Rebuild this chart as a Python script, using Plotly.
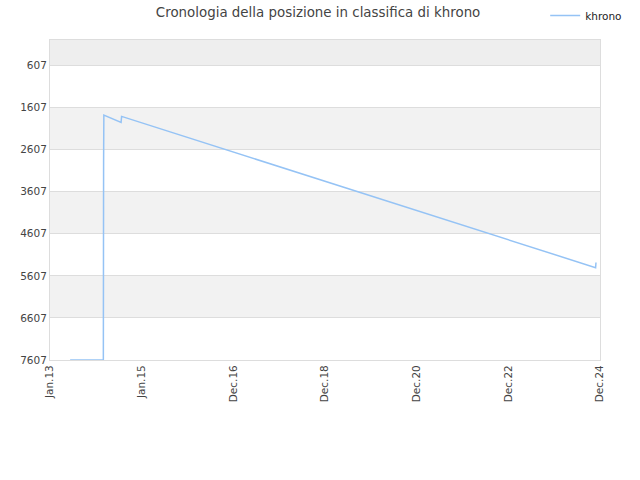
import pandas as pd
import plotly.graph_objs as go

# rank history of khrono (lower number = better position)
dates = ["2013-06-10", "2014-03-01", "2014-03-03", "2014-03-05",
         "2014-07-20", "2014-07-24", "2024-11-15", "2024-11-18"]
ranks = [7607, 7607, 2900, 1786, 1960, 1817, 5412, 5289]

y_ticks = [607, 1607, 2607, 3607, 4607, 5607, 6607, 7607]
x_labels = ["Jan.13", "Jan.15", "Dec.16", "Dec.18", "Dec.20", "Dec.22", "Dec.24"]
x_start = "2013-01-01"
x_end = "2024-12-20"

x_ticks = pd.date_range(x_start, x_end, periods=len(x_labels))

fig = go.Figure()
fig.add_trace(go.Scatter(
    x=pd.to_datetime(dates), y=ranks, mode="lines", name="khrono",
    line=dict(color="#95c3f5", width=1.5),
))

# alternating background bands
band_edges = [1] + y_ticks
shapes = []
for i in range(0, len(band_edges) - 1, 2):
    shapes.append(dict(
        type="rect", xref="paper", yref="y", x0=0, x1=1,
        y0=band_edges[i], y1=band_edges[i + 1],
        fillcolor="#eeeeee" if i == 0 else "#f2f2f2",
        line=dict(width=0), layer="below",
    ))

fig.update_layout(
    width=640, height=480,
    margin=dict(l=50, r=40, t=40, b=120, autoexpand=False),
    paper_bgcolor="white", plot_bgcolor="white",
    font=dict(family="DejaVu Sans", size=10.5, color="#444"),
    title=dict(text="Cronologia della posizione in classifica di khrono",
               x=0.497, xanchor="center", y=0.975, yanchor="middle",
               font=dict(size=13.4, color="#444")),
    showlegend=True,
    legend=dict(xref="container", yref="container",
                x=0.98, xanchor="right", y=0.998, yanchor="top",
                font=dict(size=10.5, color="#222"), bgcolor="rgba(0,0,0,0)"),
    shapes=shapes,
)

fig.update_xaxes(
    range=[pd.Timestamp(x_start), pd.Timestamp(x_end)],
    tickvals=x_ticks, ticktext=x_labels, tickangle=-90,
    showgrid=False, zeroline=False,
    showline=True, linecolor="#dddddd", mirror=True,
    ticks="", tickfont=dict(size=10.5, color="#444"),
)
fig.update_yaxes(
    range=[7607, 1], tickvals=y_ticks,
    showgrid=True, gridcolor="#dddddd", zeroline=False,
    showline=True, linecolor="#dddddd", mirror=True,
    ticks="", tickfont=dict(size=10.5, color="#444"),
)

# drop the default body margin so the figure sits at the window corner
fig.write_html("out.html", config={"displayModeBar": False},
               post_script="document.body.style.margin='0';")
